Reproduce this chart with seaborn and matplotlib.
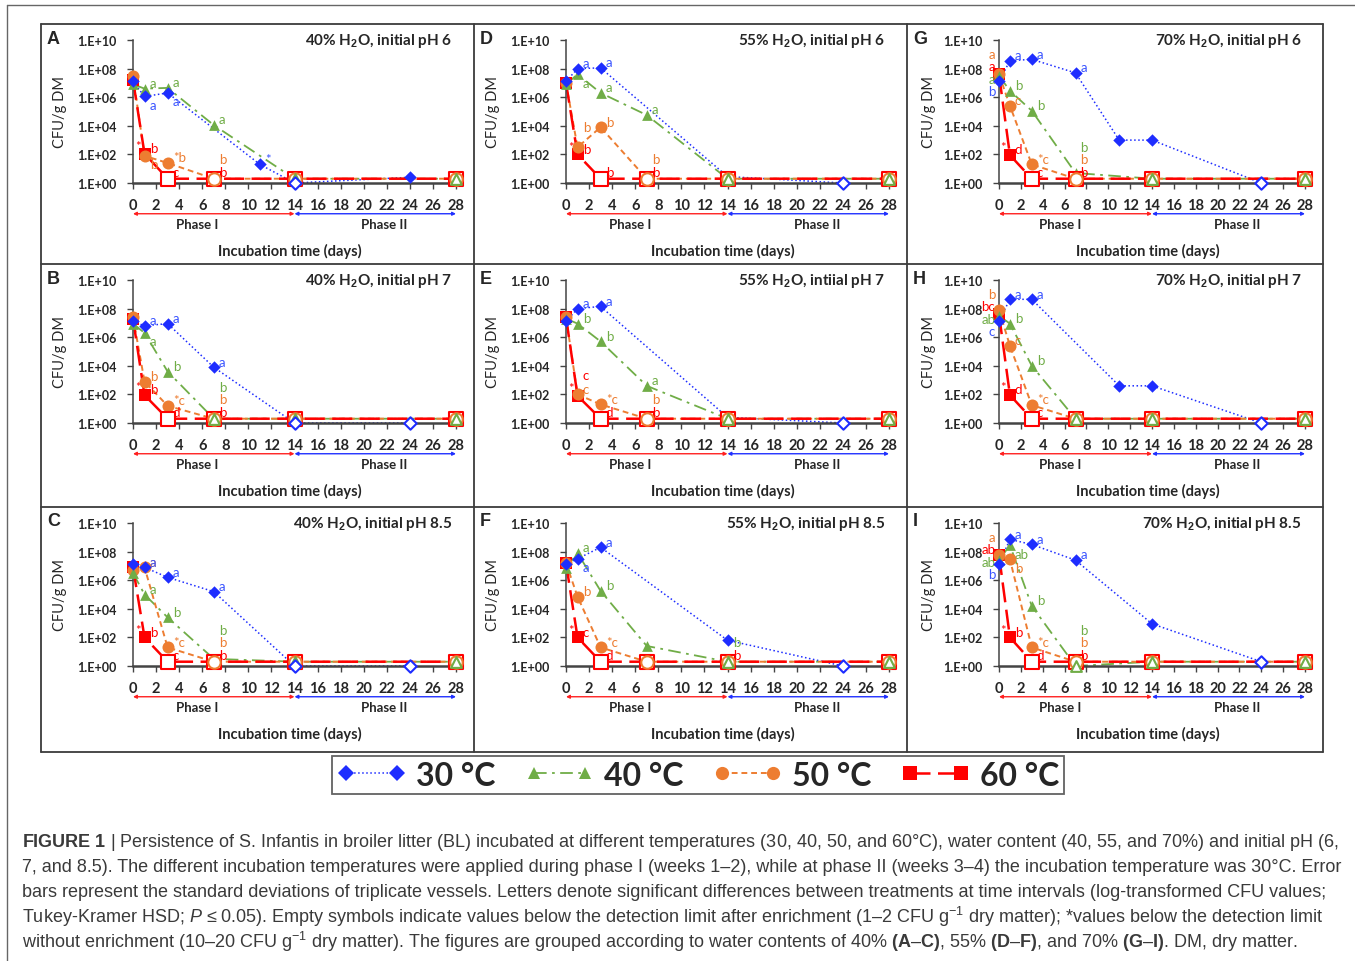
import numpy as np
import pandas as pd
import matplotlib
matplotlib.use("Agg")
import matplotlib.pyplot as plt
import seaborn as sns
from matplotlib.lines import Line2D
from matplotlib.ticker import FixedLocator, FuncFormatter, NullLocator

# ******************* data (log10 CFU/g DM)
panel_letters = ["A", "B", "C", "D", "E", "F", "G", "H", "I"]
panel_titles = [
    r"40% H$_\mathbf{2}$O, initial pH 6", r"40% H$_\mathbf{2}$O, initial pH 7", r"40% H$_\mathbf{2}$O, initial pH 8.5",
    r"55% H$_\mathbf{2}$O, initial pH 6", r"55% H$_\mathbf{2}$O, intiial pH 7", r"55% H$_\mathbf{2}$O, initial pH 8.5",
    r"70% H$_\mathbf{2}$O, initial pH 6", r"70% H$_\mathbf{2}$O, initial pH 7", r"70% H$_\mathbf{2}$O, initial pH 8.5",
]
temps = ["30 °C", "40 °C", "50 °C", "60 °C"]
days_std = [0, 1, 3, 7, 14, 28]

days_30 = [
    [0, 1, 3, 11, 14, 24], [0, 1, 3, 7, 14, 24], [0, 1, 3, 7, 14, 24],
    [0, 1, 3, 14, 24], [0, 1, 3, 14, 24], [0, 1, 3, 14, 24],
    [0, 1, 3, 7, 11, 14, 24], [0, 1, 3, 11, 14, 24], [0, 1, 3, 7, 14, 24],
]
cfu_30 = [
    [7.1, 6.05, 6.3, 1.3, 0.0, 0.4], [7.1, 6.8, 6.95, 3.9, 0.0, 0.0], [7.1, 6.9, 6.2, 5.2, 0.0, 0.0],
    [7.1, 8.0, 8.05, 0.45, 0.0], [7.1, 8.0, 8.15, 0.4, 0.0], [7.1, 7.5, 8.3, 1.8, 0.0],
    [7.1, 8.55, 8.65, 7.7, 3.0, 3.0, 0.0], [7.15, 8.65, 8.65, 2.6, 2.6, 0.0], [7.15, 8.85, 8.5, 7.4, 2.95, 0.3],
]
# letter codes: "_" below the point, "^" well above it, "*" star
let_30 = [
    ["", "_a", "_a", "*", "", ""], ["", "a", "a", "a", "", ""], ["", "a", "a", "a", "", ""],
    ["", "a", "a", "", ""], ["", "a", "a", "", ""], ["", "_a", "a", "", ""],
    ["b", "a", "a", "a", "", "", ""], ["c", "a", "a", "", "", ""], ["b", "a", "a", "a", "", ""],
]

cfu_40 = [
    [6.9, 6.6, 6.65, 4.05, 0.3, 0.3], [6.95, 6.3, 3.6, 0.3, 0.3, 0.3], [6.5, 5.0, 3.4, 0.5, 0.3, 0.3],
    [6.9, 7.6, 6.3, 4.75, 0.3, 0.3], [7.3, 6.95, 5.7, 2.6, 0.3, 0.3], [6.85, 7.9, 5.25, 1.4, 0.3, 0.3],
    [7.5, 6.45, 5.05, 0.7, 0.3, 0.3], [7.5, 6.95, 4.0, 0.3, 0.3, 0.3], [7.4, 8.45, 4.2, 0.0, 0.3, 0.3],
]
let_40 = [
    ["", "a", "a", "a", "", ""], ["", "_a", "b", "b", "", ""], ["", "a", "b", "b", "", ""],
    ["", "_a", "a", "a", "", ""], ["", "b", "b", "a", "", ""], ["", "a", "b", "", "b", ""],
    ["a", "b", "b", "b", "", ""], ["ab", "b", "b", "", "", ""], ["ab", "_ab", "b", "b", "", ""],
]

cfu_50 = [
    [7.5, 1.9, 1.4, 0.3, 0.3, 0.3], [7.4, 2.9, 1.2, 0.3, 0.3, 0.3], [6.7, 6.9, 1.3, 0.3, 0.3, 0.3],
    [7.0, 2.5, 3.9, 0.3, 0.3, 0.3], [7.4, 2.0, 1.3, 0.3, 0.3, 0.3], [7.2, 4.85, 1.3, 0.3, 0.3, 0.3],
    [7.6, 5.4, 1.3, 0.3, 0.3, 0.3], [7.9, 5.4, 1.25, 0.3, 0.3, 0.3], [7.75, 7.45, 1.3, 0.3, 0.3, 0.3],
]
let_50 = [
    ["", "_b", "*b", "b", "", ""], ["", "b", "*c", "b", "", ""], ["", "a", "*c", "b", "", ""],
    ["", "^b", "b", "b", "", ""], ["", "c", "*c", "b", "", ""], ["", "b", "*c", "", "", ""],
    ["a", "c", "*c", "b", "", ""], ["b", "c", "*c", "", "", ""], ["a", "_b", "*c", "b", "", ""],
]

cfu_60 = [
    [7.2, 2.05, 0.3, 0.3, 0.3, 0.3], [7.3, 1.95, 0.3, 0.3, 0.3, 0.3], [6.9, 2.0, 0.3, 0.3, 0.3, 0.3],
    [7.0, 2.0, 0.3, 0.3, 0.3, 0.3], [7.4, 1.9, 0.3, 0.3, 0.3, 0.3], [7.2, 2.0, 0.3, 0.3, 0.3, 0.3],
    [7.6, 1.95, 0.3, 0.3, 0.3, 0.3], [7.6, 1.95, 0.3, 0.3, 0.3, 0.3], [7.75, 2.0, 0.3, 0.3, 0.3, 0.3],
]
let_60 = [
    ["", "*b", "c", "b", "", ""], ["", "*b", "d", "b", "", ""], ["", "*b", "c", "b", "", ""],
    ["", "*b", "b", "b", "", ""], ["", "^*c", "d", "b", "", ""], ["", "*c", "d", "", "b", ""],
    ["a", "*d", "c", "b", "", ""], ["bc", "*d", "c", "", "", ""], ["ab", "*b", "d", "b", "", ""],
]

caption_lines = [
    r"$\mathbf{FIGURE\ 1}$ | Persistence of S. Infantis in broiler litter (BL) incubated at different temperatures (30, 40, 50, and 60°C), water content (40, 55, and 70%) and initial pH (6,",
    "7, and 8.5). The different incubation temperatures were applied during phase I (weeks 1–2), while at phase II (weeks 3–4) the incubation temperature was 30°C. Error",
    "bars represent the standard deviations of triplicate vessels. Letters denote significant differences between treatments at time intervals (log-transformed CFU values;",
    r"Tukey-Kramer HSD; $P$ ≤ 0.05). Empty symbols indicate values below the detection limit after enrichment (1–2 CFU g$^{-1}$ dry matter); *values below the detection limit",
    r"without enrichment (10–20 CFU g$^{-1}$ dry matter). The figures are grouped according to water contents of 40% $\mathbf{(A}$–$\mathbf{C)}$, 55% $\mathbf{(D}$–$\mathbf{F)}$, and 70% $\mathbf{(G}$–$\mathbf{I)}$. DM, dry matter.",
]

# ******************* styles
colors = ["#1e2dff", "#70ad47", "#ed7d31", "#ff0000"]
let_colors = ["#3b55ff", "#70ad47", "#ed7d31", "#ff0000"]
lstyles = [":", (0, (7, 3, 1.5, 3)), (0, (3, 2)), (0, (8, 3))]
lwidths = [1.1, 1.3, 1.4, 1.8]
markers = ["D", "^", "o", "s"]
fill_size = [40, 60, 75, 80]
hollow_size = [40, 60, 80, 100]
left_level = [6.45, 7.3, 9.0, 8.15]

sns.set_theme(style="white")
plt.rcParams["font.family"] = ["Lato", "DejaVu Sans"]
plt.rcParams["font.weight"] = "bold"
plt.rcParams["mathtext.fontset"] = "custom"
plt.rcParams["mathtext.rm"] = "Liberation Sans:weight=normal"
plt.rcParams["mathtext.it"] = "Liberation Sans:style=italic:weight=normal"
plt.rcParams["mathtext.bf"] = "Liberation Sans:weight=bold"

W, H = 1355, 962
fig = plt.figure(figsize=(W / 100, H / 100), dpi=100)

def fig_line(x0, y0, x1, y1, lw=1.3, color="#3c3c3c"):
    fig.add_artist(Line2D([x0 / W, x1 / W], [1 - y0 / H, 1 - y1 / H], lw=lw, color=color,
                          transform=fig.transFigure))

# outer page frame and panel grid
fig_line(7, 6, W, 6, lw=1.0, color="#666666")
fig_line(7, 6, 7, H, lw=1.0, color="#666666")
col_left = [41, 474, 907]
col_right = [474, 907, 1323]
row_top = [25, 265, 508]
fig_line(41, 25, 1323, 25)
fig_line(41, 753, 1323, 753)
for x in [41, 474, 907, 1323]:
    fig_line(x, 25, x, 753)
for y in [265, 508]:
    fig_line(41, y, 1323, y)

def ylab(v, pos):
    return "1.E+%02d" % int(round(np.log10(v)))

for p in range(9):
    c, r = p // 3, p % 3
    left = col_left[c] + 92
    right = col_right[c] - 18
    top = row_top[r] + 16
    bot = row_top[r] + 159
    ax = fig.add_axes([left / W, 1 - bot / H, (right - left) / W, (bot - top) / H])
    ax.set_yscale("log")
    ax.set_xlim(0, 28)
    ax.set_ylim(1, 1e10)
    ax.patch.set_alpha(0)

    series_days = [days_30[p], days_std, days_std, days_std]
    series_vals = [cfu_30[p], cfu_40[p], cfu_50[p], cfu_60[p]]
    series_lets = [let_30[p], let_40[p], let_50[p], let_60[p]]

    for k in range(4):
        d = np.array(series_days[k])
        v = np.array(series_vals[k])
        df = pd.DataFrame({"day": d, "cfu": 10 ** v})
        sns.lineplot(data=df, x="day", y="cfu", ax=ax, color=colors[k], linestyle=lstyles[k],
                     lw=lwidths[k], estimator=None, sort=False, clip_on=False, zorder=2 + k * 0.1)
        filled = v > 0.35
        sns.scatterplot(data=df[filled], x="day", y="cfu", ax=ax, marker=markers[k], s=fill_size[k],
                        color=colors[k], edgecolor=colors[k], linewidth=0, clip_on=False,
                        zorder=3.3 - k * 0.1)
        ax.scatter(d[~filled], 10 ** v[~filled], marker=markers[k], s=hollow_size[k],
                   facecolors="white", edgecolors=colors[k], linewidths=1.5, clip_on=False,
                   zorder=4.3 - k * 0.1)

    # significance letters
    stack = {}
    for k in [3, 2, 1, 0]:
        for d, v, lab in zip(series_days[k], series_vals[k], series_lets[k]):
            if not lab:
                continue
            if d == 0:
                ax.text(-0.35, 10 ** left_level[k], lab, color=let_colors[k], fontsize=9.5,
                        fontweight="normal", ha="right", va="center", clip_on=False)
                continue
            shift = 0.4
            if lab[0] == "_":
                shift, lab = -0.6, lab[1:]
            elif lab[0] == "^":
                shift, lab = 1.45, lab[1:]
            if k == 3 and lab.startswith("*"):
                ax.text(d - 0.35, 10 ** (v + 0.55), "*", color=let_colors[k], fontsize=9.5,
                        fontweight="normal", ha="right", va="center")
                lab = lab[1:]
            if v < 1.0:
                n = stack.get(d, 0)
                stack[d] = n + 1
                ty = 0.8 + 0.85 * n
            else:
                ty = v + shift
            ax.text(d + 0.45, 10 ** ty, lab, color=let_colors[k], fontsize=9.5,
                    fontweight="normal", ha="left", va="center", clip_on=False)

    # axes styling
    ax.yaxis.set_major_locator(FixedLocator([10.0 ** e for e in range(0, 11, 2)]))
    ax.yaxis.set_minor_locator(NullLocator())
    ax.yaxis.set_major_formatter(FuncFormatter(ylab))
    ax.set_xticks(range(0, 29, 2))
    ax.spines["top"].set_visible(False)
    ax.spines["right"].set_visible(False)
    ax.spines["left"].set_color("#444444")
    ax.spines["left"].set_linewidth(1.1)
    ax.spines["bottom"].set_color("#444444")
    ax.spines["bottom"].set_linewidth(1.8)
    ax.tick_params(axis="y", direction="out", length=4, width=1, pad=8, labelsize=9,
                   color="#444444", left=True)
    ax.tick_params(axis="x", direction="out", length=4, width=1, pad=7, labelsize=10.5,
                   color="#444444", bottom=True)
    ax.grid(False)
    ax.set_xlabel("")
    ax.set_ylabel("CFU/g DM", fontsize=10.5)
    ax.yaxis.set_label_coords(-0.205, 0.5)

    # phase arrows
    ax.annotate("", xy=(0, -0.215), xytext=(14, -0.215), xycoords=("data", "axes fraction"),
                textcoords=("data", "axes fraction"), annotation_clip=False,
                arrowprops=dict(arrowstyle="<|-|>", color="#ff2020", lw=1.0, mutation_scale=5,
                                shrinkA=0, shrinkB=0))
    ax.annotate("", xy=(14, -0.215), xytext=(28, -0.215), xycoords=("data", "axes fraction"),
                textcoords=("data", "axes fraction"), annotation_clip=False,
                arrowprops=dict(arrowstyle="<|-|>", color="#2030ff", lw=1.0, mutation_scale=5,
                                shrinkA=0, shrinkB=0))
    tr = ax.get_xaxis_transform()
    ax.text(5.6, -0.29, "Phase I", transform=tr, ha="center", va="center", fontsize=9.5)
    ax.text(21.8, -0.29, "Phase II", transform=tr, ha="center", va="center", fontsize=9.5)
    ax.text(13.6, -0.47, "Incubation time (days)", transform=tr, ha="center", va="center",
            fontsize=10.5)

    ax.text(0.99, 1.0, panel_titles[p], transform=ax.transAxes, ha="right", va="center",
            fontsize=11)
    fig.text((col_left[c] + 6) / W, 1 - (row_top[r] + 14) / H, panel_letters[p],
             family="Liberation Sans", fontweight="bold", fontsize=13, ha="left", va="center")

# ******************* shared legend
handles = [Line2D([0], [0], color=colors[k], linestyle=lstyles[k], lw=lwidths[k], marker=markers[k],
                  markersize=[8, 9, 9.5, 10][k], markeredgewidth=0) for k in range(4)]
leg = fig.legend(handles, temps, loc="center", bbox_to_anchor=(698 / W, 1 - 776 / H), ncol=4,
                 frameon=True, fancybox=False, numpoints=2, handlelength=2.2, handletextpad=0.3,
                 columnspacing=0.9, borderpad=0.15, prop={"family": "Lato", "weight": "bold", "size": 23})
leg.get_frame().set_edgecolor("#3c3c3c")
leg.get_frame().set_linewidth(1.3)

# ******************* caption
for i, line in enumerate(caption_lines):
    fig.text(22 / W, 1 - (843 + 24.8 * i) / H, line, family="Liberation Sans", fontweight="normal",
             fontsize=13.0, color="#3a3a3a", ha="left", va="center")

fig.savefig("out.png", dpi=100)
